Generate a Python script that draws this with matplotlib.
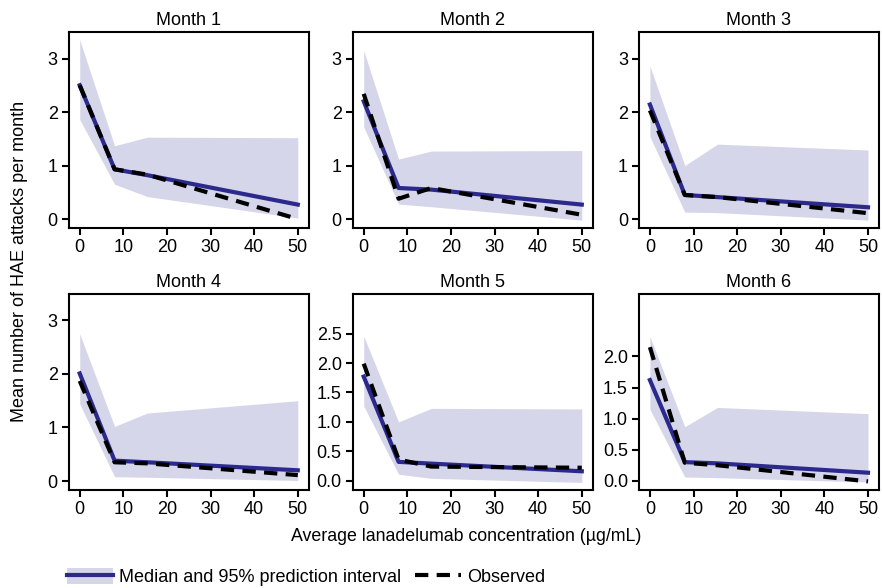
import numpy as np
import matplotlib.pyplot as plt
from matplotlib.patches import Patch
from matplotlib.lines import Line2D
from matplotlib.legend_handler import HandlerTuple

plt.rcParams['font.family'] = ['Liberation Sans', 'DejaVu Sans']
plt.rcParams['font.size'] = 13

# concentration grid (µg/mL)
conc = [0, 8, 15.5, 50]

months = ["Month 1", "Month 2", "Month 3", "Month 4", "Month 5", "Month 6"]

pi_upper = [
    [3.35, 1.37, 1.53, 1.52],
    [3.15, 1.12, 1.27, 1.28],
    [2.86, 1.00, 1.40, 1.29],
    [2.75, 1.02, 1.27, 1.50],
    [2.46, 1.00, 1.23, 1.22],
    [2.32, 0.87, 1.18, 1.08],
]
pi_lower = [
    [1.86, 0.65, 0.42, 0.02],
    [1.72, 0.28, 0.23, -0.02],
    [1.54, 0.13, 0.12, -0.02],
    [1.44, 0.08, 0.07, 0.01],
    [1.27, 0.11, 0.04, -0.03],
    [1.15, 0.06, 0.05, -0.02],
]
median = [
    [2.50, 0.93, 0.82, 0.27],
    [2.20, 0.58, 0.55, 0.27],
    [2.14, 0.45, 0.41, 0.22],
    [2.01, 0.38, 0.35, 0.20],
    [1.77, 0.32, 0.29, 0.16],
    [1.62, 0.30, 0.28, 0.13],
]
observed = [
    [2.50, 0.93, 0.83, 0.00],
    [2.34, 0.38, 0.58, 0.08],
    [2.03, 0.45, 0.41, 0.11],
    [1.87, 0.35, 0.33, 0.11],
    [1.99, 0.36, 0.24, 0.22],
    [2.15, 0.29, 0.25, -0.01],
]

yticks = [[0, 1, 2, 3]] * 4 + [[0, 0.5, 1.0, 1.5, 2.0, 2.5], [0, 0.5, 1.0, 1.5, 2.0]]
ylims = [(-0.17, 3.5)] * 4 + [(-0.16, 3.18), (-0.15, 3.01)]

band_col = "#d6d6ea"
med_col = "#2b2a8c"

fig = plt.figure(figsize=(8.82, 5.88), dpi=100)
lefts = [0.078, 0.400, 0.7245]
bottoms = [0.612, 0.1665]

for i in range(6):
    ax = fig.add_axes([lefts[i % 3], bottoms[i // 3], 0.272, 0.334])
    ax.fill_between(conc, pi_lower[i], pi_upper[i], color=band_col, linewidth=0)
    ax.plot(conc, median[i], color=med_col, lw=3)
    ax.plot(conc, observed[i], color="black", lw=3, dashes=(3.2, 2))
    ax.set_xlim(-2.5, 52.5)
    ax.set_ylim(*ylims[i])
    ax.set_xticks([0, 10, 20, 30, 40, 50])
    ax.set_yticks(yticks[i])
    if i >= 4:
        ax.set_yticklabels([f"{v:.1f}" for v in yticks[i]])
    ax.set_title(months[i], fontsize=13, pad=5)
    for s in ax.spines.values():
        s.set_linewidth(1.5)
    ax.tick_params(direction="out", length=5, width=1.5, labelsize=13, pad=3)

fig.text(0.022, 0.555, "Mean number of HAE attacks per month", rotation=90,
         ha="center", va="center", fontsize=13)
fig.text(0.528, 0.087, "Average lanadelumab concentration (µg/mL)",
         ha="center", va="center", fontsize=12.8)

h1 = (Patch(facecolor=band_col, edgecolor="none"), Line2D([], [], color=med_col, lw=3))
h2 = Line2D([], [], color="black", lw=3, dashes=(3.2, 2))
fig.legend([h1, h2], ["Median and 95% prediction interval", "Observed"],
           handler_map={tuple: HandlerTuple(ndivide=1, pad=0)},
           loc="lower left", bbox_to_anchor=(0.058, -0.025), ncol=2, frameon=False,
           handlelength=2.5, handleheight=0.95, columnspacing=0.8, handletextpad=0.35,
           fontsize=13)

fig.savefig("out.png", dpi=100)
